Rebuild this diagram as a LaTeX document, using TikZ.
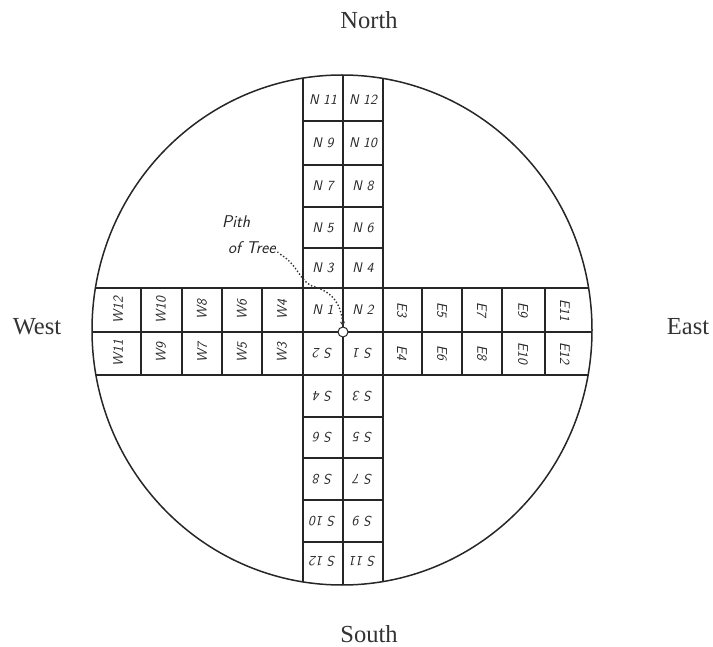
\documentclass[tikz,border=0pt]{standalone}
\usepackage{fontspec}
\setmainfont{Liberation Serif}
\usetikzlibrary{arrows.meta}
\begin{document}
\begin{tikzpicture}[x=1pt,y=-1pt,
  gridline/.style={line width=1.1pt, draw=black!85},
  rim/.style={line width=1.5pt, draw=black!85},
  cell/.style={font=\sffamily\itshape\fontsize{14}{16}\selectfont, inner sep=0pt, text=black!85},
  wcell/.style={cell, rotate=90},
  ecell/.style={cell, rotate=-90},
  scell/.style={cell, rotate=180},
  note/.style={font=\sffamily\itshape\fontsize{17}{19}\selectfont, inner sep=0pt, text=black!85},
  compass/.style={font=\fontsize{24.5}{28}\selectfont, text=black!80, inner sep=0pt},
  pointer/.style={dotted, line width=1.4pt, draw=black!80, -{Stealth[length=5pt,width=5pt]}}]
\useasboundingbox (0,0) rectangle (713,647);
% grid, clipped by the trunk outline
\begin{scope}
  \clip (342,330) ellipse [x radius=250pt, y radius=255pt];
  \draw[gridline] (303,0) -- (303,647);
  \draw[gridline] (343,0) -- (343,647);
  \draw[gridline] (383,0) -- (383,647);
  \draw[gridline] (0,288) -- (713,288);
  \draw[gridline] (0,332) -- (713,332);
  \draw[gridline] (0,375) -- (713,375);
\end{scope}
\foreach \yy in {121,165,207,248,417,458,500,542}
  \draw[gridline] (303,\yy) -- (383,\yy);
\foreach \xx in {141,182,222,262,422,462,502,545}
  \draw[gridline] (\xx,288) -- (\xx,375);
\draw[rim] (342,330) ellipse [x radius=250pt, y radius=255pt];
% pith
\node[circle, draw=black!85, fill=white, line width=1pt, minimum size=10pt, inner sep=0pt] (pith) at (343,332) {};
% north cells
\node[cell] (n1) at (323,310) {N 1};   \node[cell] (n2) at (363,310) {N 2};
\node[cell] (n3) at (323,268) {N 3};   \node[cell] (n4) at (363,268) {N 4};
\node[cell] (n5) at (323,228) {N 5};   \node[cell] (n6) at (363,228) {N 6};
\node[cell] (n7) at (323,186) {N 7};   \node[cell] (n8) at (363,186) {N 8};
\node[cell] (n9) at (323,143) {N 9};   \node[cell] (n10) at (363,143) {N 10};
\node[cell] (n11) at (323,100) {N 11}; \node[cell] (n12) at (363,100) {N 12};
% south cells
\node[scell] (s2) at (323,353) {S 2};   \node[scell] (s1) at (363,353) {S 1};
\node[scell] (s4) at (323,396) {S 4};   \node[scell] (s3) at (363,396) {S 3};
\node[scell] (s6) at (323,437) {S 6};   \node[scell] (s5) at (363,437) {S 5};
\node[scell] (s8) at (323,479) {S 8};   \node[scell] (s7) at (363,479) {S 7};
\node[scell] (s10) at (323,521) {S 10}; \node[scell] (s9) at (363,521) {S 9};
\node[scell] (s12) at (323,561) {S 12}; \node[scell] (s11) at (363,561) {S 11};
% west cells
\node[wcell] (w4) at (282,310) {W4};   \node[wcell] (w3) at (282,353) {W3};
\node[wcell] (w6) at (242,310) {W6};   \node[wcell] (w5) at (242,353) {W5};
\node[wcell] (w8) at (202,310) {W8};   \node[wcell] (w7) at (202,353) {W7};
\node[wcell] (w10) at (161,310) {W10}; \node[wcell] (w9) at (161,353) {W9};
\node[wcell] (w12) at (118,310) {W12}; \node[wcell] (w11) at (118,353) {W11};
% east cells
\node[ecell] (e3) at (402,310) {E3};   \node[ecell] (e4) at (402,353) {E4};
\node[ecell] (e5) at (442,310) {E5};   \node[ecell] (e6) at (442,353) {E6};
\node[ecell] (e7) at (482,310) {E7};   \node[ecell] (e8) at (482,353) {E8};
\node[ecell] (e9) at (523,310) {E9};   \node[ecell] (e10) at (523,353) {E10};
\node[ecell] (e11) at (565,310) {E11}; \node[ecell] (e12) at (565,353) {E12};
% pith label
\node[note, anchor=west] (pithlbl) at (222,222) {Pith};
\node[note, anchor=west] (tree) at (228,248) {of Tree.};
\draw[pointer] (tree.south east) .. controls (298,265) and (299,280) .. (312,286)
  .. controls (334,292) and (341,305) .. (pith.north);
% compass labels
\node[compass] (north) at (369,20) {North};
\node[compass] (south) at (369,634) {South};
\node[compass] (west) at (37,327) {West};
\node[compass] (east) at (688,327) {East};
\end{tikzpicture}
\end{document}
